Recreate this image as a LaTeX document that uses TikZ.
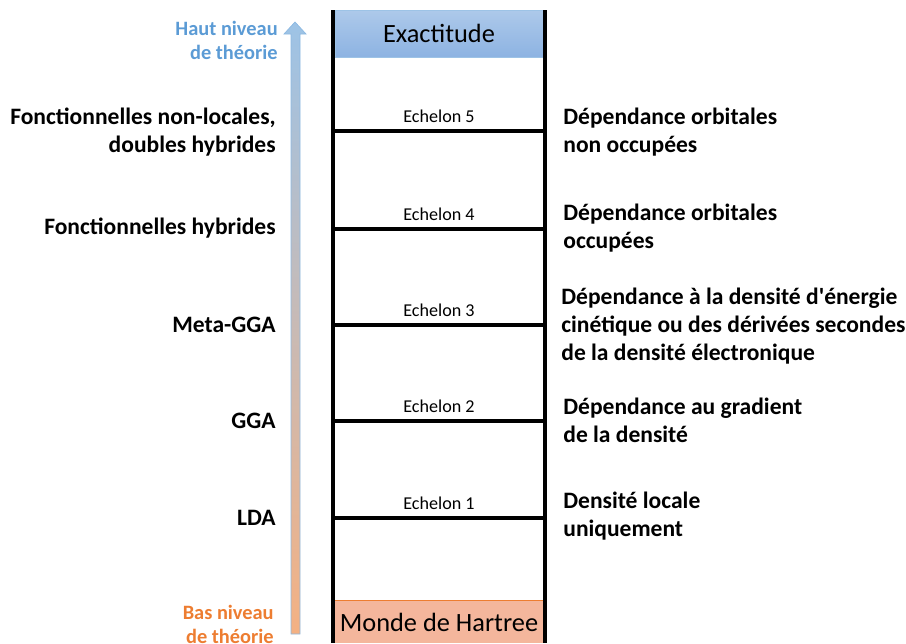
\documentclass[tikz,border=0pt]{standalone}
\usepackage{fontspec}
\setmainfont{Carlito}
\usetikzlibrary{positioning}
\definecolor{hautblue}{HTML}{5B9BD5}
\definecolor{basorange}{HTML}{ED7D31}
\definecolor{topfill}{HTML}{ADC9EA}
\definecolor{topfilldark}{HTML}{8DB3E2}
\definecolor{botfill}{HTML}{F4B69C}
\definecolor{arrowtop}{HTML}{9DC3E6}
\definecolor{arrowbot}{HTML}{F4B183}

\begin{document}
\begin{tikzpicture}[
    x=0.02cm, y=-0.02cm,
    rail/.style={
      line width=2.6pt,
      black,
    },
    rung/.style={
      line width=1.8pt,
      black,
    },
    box/.style={
      minimum width=4.16cm,
      inner sep=0pt,
      font=\fontsize{15}{17}\selectfont,
    },
    level/.style={
      anchor=east,
      align=right,
      inner sep=0pt,
      font=\bfseries\fontsize{13.4}{16}\selectfont,
    },
    theory/.style={
      level,
      font=\bfseries\fontsize{11.6}{13.6}\selectfont,
    },
    feature/.style={
      anchor=west,
      align=left,
      inner sep=0pt,
      font=\bfseries\fontsize{13.4}{16}\selectfont,
    },
    echelon/.style={
      anchor=base,
      inner sep=0pt,
      font=\fontsize{10.3}{12}\selectfont,
    },
    ]
    \useasboundingbox (0,0) rectangle (906,643);

    % theory arrow
    \shade[top color=arrowtop, bottom color=arrowbot, draw=hautblue!70, line width=0.4pt]
      (291,634) -- (291,34) -- (284,34) -- (295,22) -- (306,34) -- (300,34) -- (300,634) -- cycle;
    \node[theory, text=hautblue] (haut) at (278,40) {Haut niveau\\de théorie};
    \node[theory, text=basorange] (bas) at (274,624) {Bas niveau\\de théorie};

    % boxes
    \node[box, minimum height=0.94cm, top color=topfill, bottom color=topfilldark,
      draw=hautblue!60, line width=0.3pt] (exact) at (439,33.5) {Exactitude};
    \node[box, minimum height=0.84cm, fill=botfill] (hartree) at (439,622) {Monde de Hartree};
    \draw[basorange, line width=0.5pt] (hartree.north west) -- (hartree.north east);

    % rungs
    \foreach \n/\y in {1/518,2/421,3/325,4/229,5/131} {
      \coordinate (rw\n) at (333,\y);
      \coordinate (re\n) at (545,\y);
      \draw[rung] (rw\n) -- (re\n);
      \node[echelon] (ech\n) at (439,\y-9) {Echelon \n};
    }

    % rails
    \coordinate (lt) at (333,10);
    \coordinate (lb) at (333,643);
    \coordinate (rt) at (545,10);
    \coordinate (rb) at (545,643);
    \draw[rail] (lt) -- (lb);
    \draw[rail] (rt) -- (rb);

    % functionals
    \node[level] (nonloc) at (276,132) {Fonctionnelles non-locales,\\doubles hybrides};
    \node[level] (hyb) at (276,228) {Fonctionnelles hybrides};
    \node[level] (meta) at (276,325) {Meta-GGA};
    \node[level] (gga) at (276,421) {GGA};
    \node[level] (lda) at (276,518) {LDA};

    % dependencies
    \node[feature] (dep5) at (563,132) {Dépendance orbitales\\non occupées};
    \node[feature] (dep4) at (563,228) {Dépendance orbitales\\occupées};
    \node[feature] (dep3) at (561,326) {Dépendance à la densité d\textquotesingle énergie\\cinétique ou des dérivées secondes\\de la densité électronique};
    \node[feature] (dep2) at (563,420) {Dépendance au gradient\\de la densité};
    \node[feature] (dep1) at (563,516) {Densité locale\\uniquement};
  \end{tikzpicture}
\end{document}
